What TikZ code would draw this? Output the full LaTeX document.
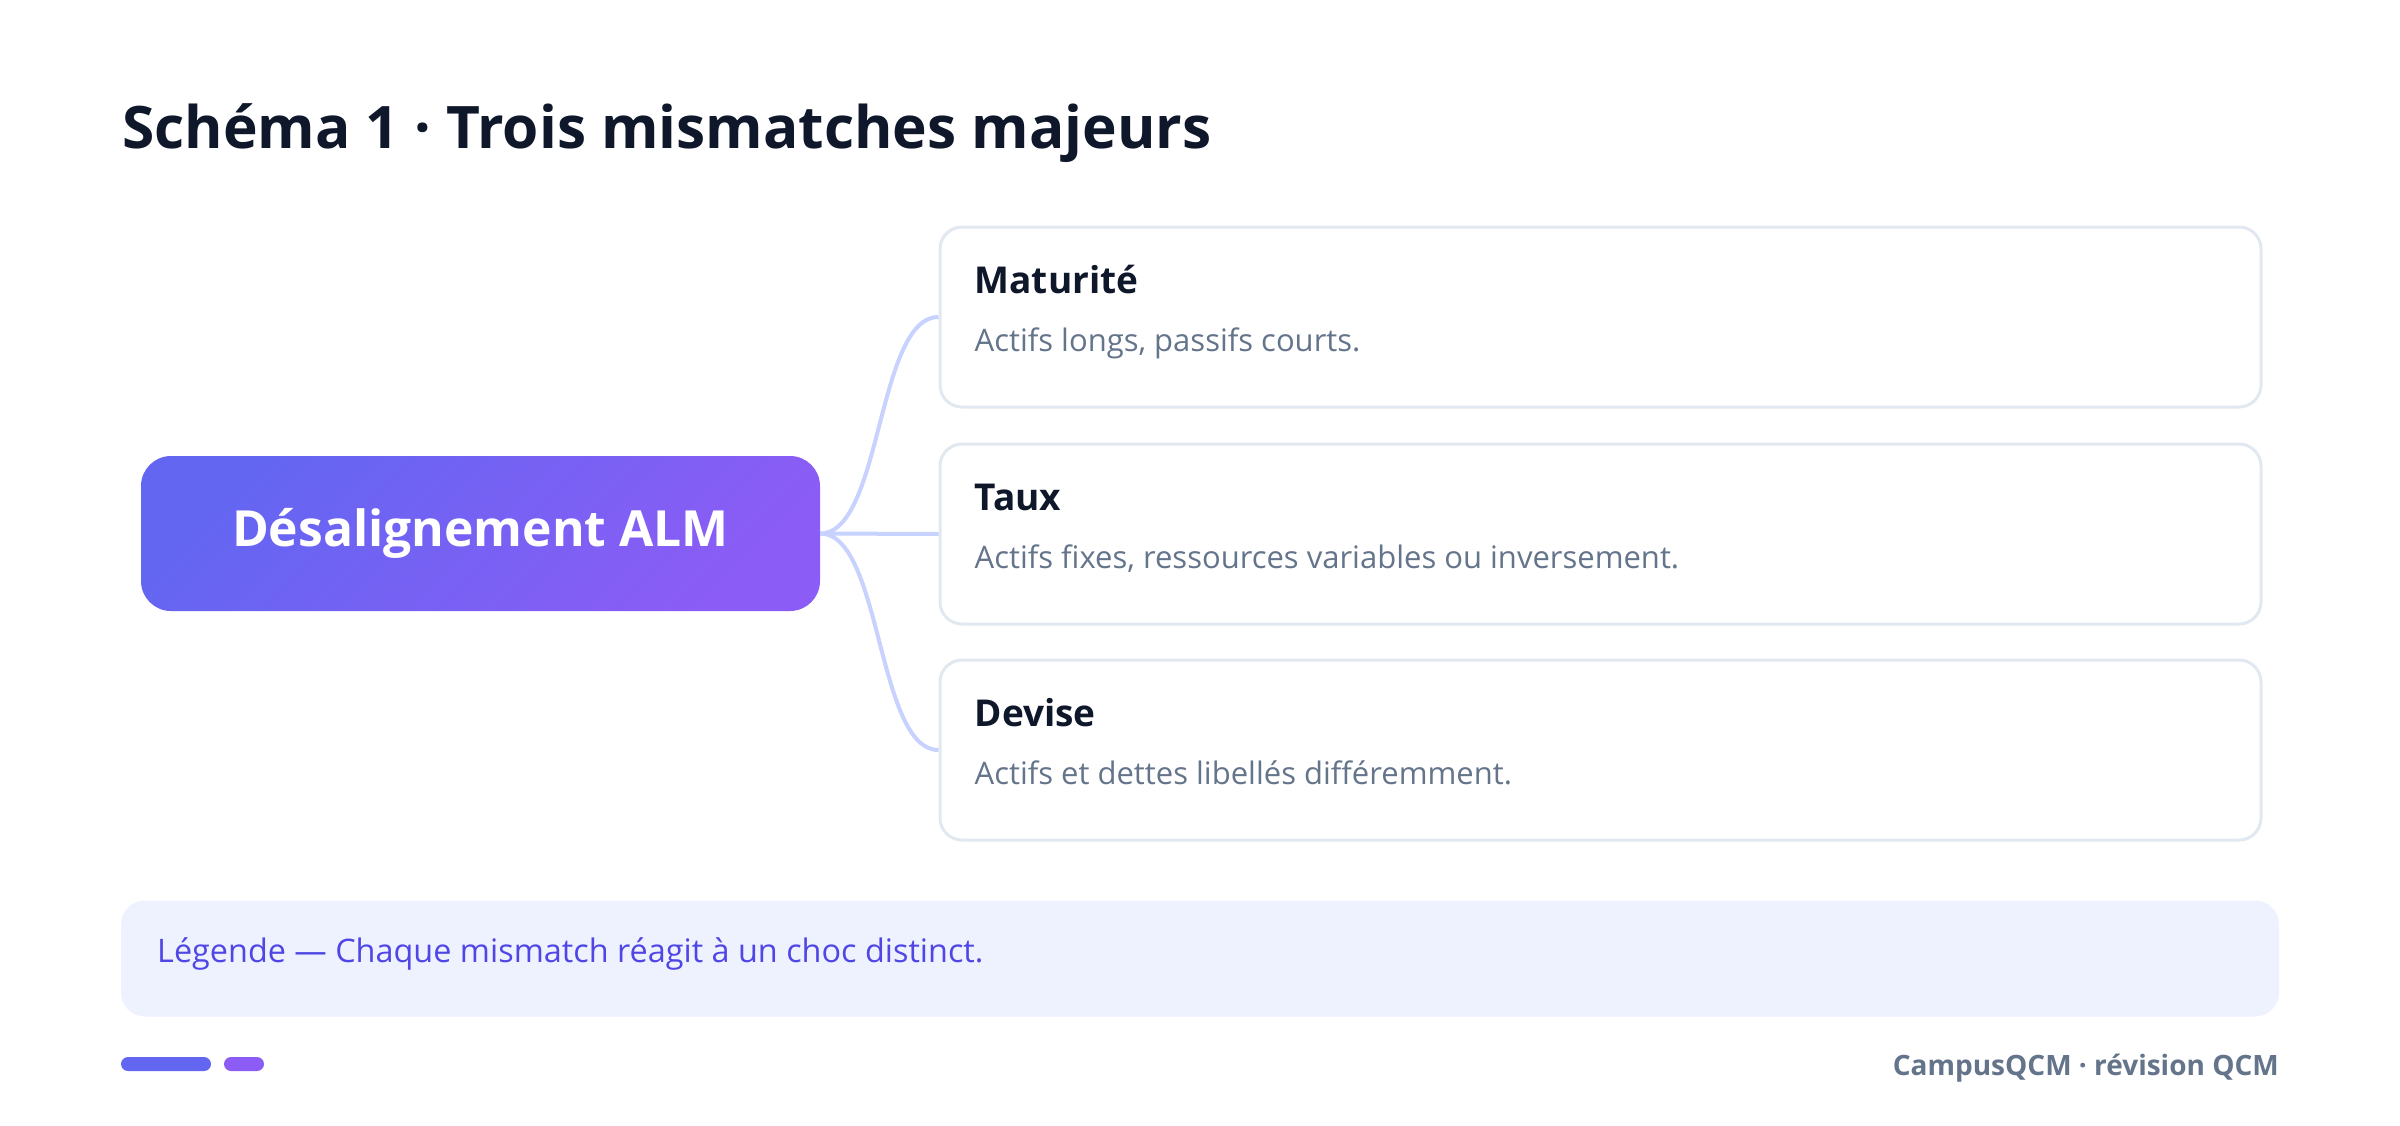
\documentclass[tikz,border=0pt]{standalone}
\usepackage{fontspec}
\setmainfont{Open Sans}
\usetikzlibrary{calc}
\definecolor{ink}{HTML}{0F172A}
\definecolor{muted}{HTML}{64748B}
\definecolor{cardline}{HTML}{E2E8F0}
\definecolor{connc}{HTML}{C7D2FE}
\definecolor{legbg}{HTML}{EEF2FF}
\definecolor{legtext}{HTML}{4F46E5}
\definecolor{indigoA}{HTML}{6366F1}
\definecolor{violetB}{HTML}{8B5CF6}
\begin{document}
\begin{tikzpicture}[x=1pt,y=-1pt,
  card/.style={draw=cardline, line width=3pt, fill=white, rounded corners=22pt,
    minimum width=1321pt, minimum height=180pt, inner sep=0pt},
  conn/.style={draw=connc, line width=4pt},
  cardtitle/.style={anchor=base west, inner sep=0pt, text=ink,
    font=\fontsize{37}{40}\selectfont\bfseries},
  carddesc/.style={anchor=base west, inner sep=0pt, text=muted,
    font=\fontsize{31}{34}\selectfont},
  pill/.style={rounded corners=7pt}]
\fill[white] (0,0) rectangle (2400,1125);
\useasboundingbox (0,0) rectangle (2400,1125);

\node[anchor=base west, inner sep=0pt, text=ink, font=\fontsize{58.6}{68}\selectfont\bfseries]
  (title) at (122,148) {Schéma 1 · Trois mismatches majeurs};

\node[rounded corners=30pt, minimum width=679pt, minimum height=155pt, inner sep=0pt,
  top color=indigoA, bottom color=violetB, shading angle=45, text=white,
  font=\fontsize{49.8}{58}\selectfont\bfseries] (c) at (480.5,533.5) {Désalignement ALM};

\node[card] (b1) at (1600.5,317) {};
\node[card] (b2) at (1600.5,534) {};
\node[card] (b3) at (1600.5,750) {};

\draw[conn] (c.east) .. controls +(62,0) and +(-62,0) .. (b1.west);
\draw[conn] (c.east) -- (b2.west);
\draw[conn] (c.east) .. controls +(62,0) and +(-62,0) .. (b3.west);

\node[cardtitle] (t1) at ($(b1.north west)+(36,67.5)$) {Maturité};
\node[carddesc] (d1) at ($(b1.north west)+(36,125.5)$) {Actifs longs, passifs courts.};
\node[cardtitle] (t2) at ($(b2.north west)+(36,67.5)$) {Taux};
\node[carddesc] (d2) at ($(b2.north west)+(36,125.5)$) {Actifs fixes, ressources variables ou inversement.};
\node[cardtitle] (t3) at ($(b3.north west)+(36,67.5)$) {Devise};
\node[carddesc] (d3) at ($(b3.north west)+(36,125.5)$) {Actifs et dettes libellés différemment.};

\node[fill=legbg, rounded corners=24pt, minimum width=2158pt, minimum height=116pt, inner sep=0pt]
  (leg) at (1200,958.5) {};
\node[anchor=base west, inner sep=0pt, text=legtext, font=\fontsize{32.4}{38}\selectfont]
  (legt) at (157,962) {Légende — Chaque mismatch réagit à un choc distinct.};

\fill[indigoA, pill] (121,1057) rectangle (211,1071);
\fill[violetB, pill] (224,1057) rectangle (264,1071);

\node[anchor=base east, inner sep=0pt, text=muted, font=\fontsize{28}{32}\selectfont\bfseries]
  (foot) at (2279,1075) {CampusQCM · révision QCM};
\end{tikzpicture}
\end{document}
